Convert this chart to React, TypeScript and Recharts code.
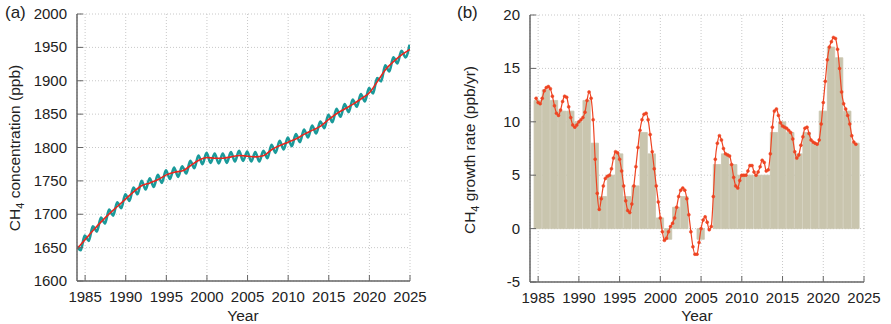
import React from "react";
import { ComposedChart, Line, Bar, XAxis, YAxis, CartesianGrid } from "recharts";

// (a) CH4 concentration, ppb
const trendYears = [
  1984, 1985, 1986, 1987, 1988, 1989, 1990, 1991, 1992, 1993, 1994, 1995, 1996, 1997,
  1998, 1999, 2000, 2001, 2002, 2003, 2004, 2005, 2006, 2007, 2008, 2009, 2010, 2011,
  2012, 2013, 2014, 2015, 2016, 2017, 2018, 2019, 2020, 2021, 2022, 2023, 2024, 2025,
];
const trendPpb = [
  1648, 1662, 1676, 1689, 1701, 1712, 1723, 1734, 1743, 1747, 1752, 1759, 1763, 1765,
  1773, 1781, 1785, 1784, 1784, 1786, 1788, 1787, 1786, 1788, 1797, 1803, 1808, 1813,
  1820, 1826, 1832, 1842, 1851, 1858, 1865, 1873, 1882, 1899, 1917, 1929, 1939, 1947,
];
// monthly record: first value, then seasonal low (mid-year) and high (year end) of each year
const monthlyFirstPpb = 1652;
const seasonYears = trendYears.slice(0, 41);
const seasonLowPpb = [
  1646, 1660, 1674, 1686, 1698, 1709, 1720, 1730, 1737, 1741, 1747, 1753, 1756, 1761,
  1769, 1775, 1777, 1776, 1777, 1779, 1780, 1779, 1779, 1784, 1792, 1797, 1802, 1808,
  1815, 1821, 1829, 1838, 1846, 1853, 1861, 1869, 1881, 1899, 1914, 1926, 1935,
];
const seasonHighPpb = [
  1668, 1682, 1695, 1707, 1718, 1730, 1740, 1750, 1754, 1759, 1766, 1770, 1772, 1780,
  1788, 1792, 1791, 1791, 1793, 1795, 1794, 1793, 1795, 1804, 1810, 1815, 1820, 1827,
  1833, 1839, 1849, 1858, 1865, 1872, 1880, 1889, 1904, 1923, 1935, 1945, 1954,
];

// (b) growth rate, ppb/yr
const barYears = trendYears.slice(1, 41);
const barRate = [
  12, 13, 12, 11, 11, 10, 12, 8, 3, 5, 7, 3, 4, 9, 7, 1, -1, 2, 3, 0,
  -1, 0, 6, 7, 6, 5, 5, 5, 5, 9, 10, 9, 7, 9, 8, 11, 17, 16, 11, 8,
];
// quarterly, from 1984.75 to 2024.0
const rateStart = 1984.75;
const rateValues = [
  12.2,
  11.8, 11.7, 12.2, 12.9, // 1985
  13.2, 13.3, 13.1, 12.4,
  11.5, 10.8, 10.6, 11.1,
  11.9, 12.4, 12.3, 11.4,
  10.4, 9.7, 9.5, 9.7,
  10.0, 10.2, 10.4, 10.9, // 1990
  12.0, 12.8, 12.2, 10.2,
  6.5, 3.3, 1.8, 2.8,
  4.0, 4.7, 4.9, 5.0,
  5.6, 6.6, 7.2, 7.1,
  6.5, 5.4, 4.0, 2.6, // 1995
  1.7, 1.5, 2.3, 4.0,
  5.8, 7.6, 9.2, 10.2,
  10.7, 10.8, 10.2, 8.8,
  7.2, 5.6, 4.0, 2.5,
  1.0, -0.3, -1.1, -0.9, // 2000
  -0.3, 0.2, 0.5, 1.0,
  2.0, 3.0, 3.6, 3.8,
  3.6, 2.8, 1.3, -0.3,
  -1.7, -2.4, -2.4, -1.3,
  0.0, 0.8, 1.1, 0.6, // 2005
  -0.1, 0.2, 3.0, 6.5,
  8.0, 8.7, 8.3, 7.5,
  7.0, 6.9, 6.8, 6.0,
  4.8, 4.0, 3.8, 4.5,
  5.0, 5.0, 5.0, 5.4, // 2010
  5.9, 5.9, 5.3, 5.0,
  5.3, 5.8, 6.4, 6.2,
  5.4, 5.5, 7.0, 9.5,
  11.0, 11.2, 10.6, 9.9,
  9.6, 9.5, 9.4, 9.2, // 2015
  9.0, 8.4, 7.2, 6.6,
  6.9, 7.8, 8.6, 9.4,
  9.5, 8.9, 8.3, 8.1,
  8.0, 7.9, 8.3, 9.8,
  11.8, 13.8, 15.8, 17.0, // 2020
  17.5, 17.9, 17.8, 16.8,
  15.0, 12.8, 11.7, 11.2,
  10.6, 9.8, 8.7, 8.1,
  7.9,
];

const yearTicks = [1985, 1990, 1995, 2000, 2005, 2010, 2015, 2020, 2025];
const minorYearTicks = trendYears;
const concTicks = [1600, 1650, 1700, 1750, 1800, 1850, 1900, 1950, 2000];
const rateTicks = [-5, 0, 5, 10, 15, 20];

const trendData = trendYears.map((x, i) => ({ x, v: trendPpb[i] }));
const monthlyData = [{ x: 1984.0, v: monthlyFirstPpb }];
seasonYears.forEach((y, i) => {
  monthlyData.push({ x: y + 0.45, v: seasonLowPpb[i] });
  monthlyData.push({ x: y + 0.95, v: seasonHighPpb[i] });
});
const barData = barYears.map((x, i) => ({ x, v: barRate[i] }));
const rateData = rateValues.map((v, i) => ({ x: rateStart + i * 0.25, v }));

const FONT = '"Liberation Sans", Arial, Helvetica, sans-serif';
const FRAME = "#666";
const TEXT = "#222";
const BAR = "#c9c5ae";

const BottomTick = (props: any) => {
  const { x, y, payload } = props;
  return (
    <g>
      <line x1={x} x2={x} y1={y} y2={y - 6} stroke={FRAME} />
      <text x={x} y={y + 21} textAnchor="middle" fontSize={15} fontFamily={FONT} fill={TEXT}>
        {payload.value}
      </text>
    </g>
  );
};

const LeftTick = (props: any) => {
  const { x, y, payload } = props;
  return (
    <g>
      <line x1={x} x2={x + 6} y1={y} y2={y} stroke={FRAME} />
      <text x={x - 10} y={y + 5} textAnchor="end" fontSize={15} fontFamily={FONT} fill={TEXT}>
        {payload.value}
      </text>
    </g>
  );
};

const frameLine = { stroke: FRAME, strokeWidth: 1.5 };

// inward ticks on the other three sides, plus the top/right frame
const extraAxes = (xDomain: number[], yDomain: number[], yTicks: number[]) => [
  <XAxis key="mb" xAxisId="mb" type="number" dataKey="x" domain={xDomain} allowDataOverflow
    orientation="bottom" mirror height={0} ticks={minorYearTicks} interval={0}
    tick={false} tickSize={3} tickLine={{ stroke: FRAME }} axisLine={false} />,
  <XAxis key="tm" xAxisId="tm" type="number" dataKey="x" domain={xDomain} allowDataOverflow
    orientation="top" mirror height={0} ticks={minorYearTicks} interval={0}
    tick={false} tickSize={3} tickLine={{ stroke: FRAME }} axisLine={frameLine} />,
  <XAxis key="tM" xAxisId="tM" type="number" dataKey="x" domain={xDomain} allowDataOverflow
    orientation="top" mirror height={0} ticks={yearTicks} interval={0}
    tick={false} tickSize={6} tickLine={{ stroke: FRAME }} axisLine={false} />,
  <YAxis key="r" yAxisId="r" type="number" domain={yDomain} allowDataOverflow
    orientation="right" mirror width={0} ticks={yTicks} interval={0}
    tick={false} tickSize={6} tickLine={{ stroke: FRAME }} axisLine={frameLine} />,
];

const textStyle: React.CSSProperties = {
  position: "absolute",
  fontFamily: FONT,
  color: TEXT,
  whiteSpace: "nowrap",
  lineHeight: 1.1,
};

const YLabel = ({ cx, cy, children }: { cx: number; cy: number; children: React.ReactNode }) => (
  <div
    style={{
      ...textStyle,
      left: cx,
      top: cy,
      fontSize: 15.5,
      transform: "translate(-50%, -50%) rotate(-90deg)",
    }}
  >
    {children}
  </div>
);

const Sub = ({ children }: { children: React.ReactNode }) => (
  <span style={{ fontSize: 11, position: "relative", top: 4 }}>{children}</span>
);

export default function App() {
  return (
    <div style={{ position: "absolute", left: 0, top: 0, width: 891, height: 324, background: "#fff", overflow: "hidden" }}>
      <div style={{ position: "absolute", left: 0, top: 0 }}>
        <ComposedChart width={445} height={324} margin={{ top: 14, right: 35, bottom: 13, left: 33 }}>
          <CartesianGrid stroke="#c8c8c8" strokeDasharray="1 2" />
          <XAxis type="number" dataKey="x" domain={[1984, 2025]} allowDataOverflow ticks={yearTicks}
            interval={0} height={30} tickSize={0} tickMargin={0} tickLine={false}
            axisLine={frameLine} tick={<BottomTick />} />
          <YAxis type="number" domain={[1600, 2000]} allowDataOverflow ticks={concTicks}
            interval={0} width={44} tickSize={0} tickMargin={0} tickLine={false}
            axisLine={frameLine} tick={<LeftTick />} />
          {extraAxes([1984, 2025], [1600, 2000], concTicks)}
          <Line data={monthlyData} dataKey="v" type="monotone" stroke="#1a9a9a" strokeWidth={2.6}
            dot={false} isAnimationActive={false} />
          <Line data={trendData} dataKey="v" type="monotone" stroke="#e8261e" strokeWidth={1.6}
            dot={false} isAnimationActive={false} />
        </ComposedChart>
      </div>
      <div style={{ position: "absolute", left: 445, top: 0 }}>
        <ComposedChart width={446} height={324} data={barData} barCategoryGap={0} barGap={0}
          margin={{ top: 15, right: 27, bottom: 12, left: 35 }}>
          <CartesianGrid stroke="#c8c8c8" strokeDasharray="1 2" />
          <XAxis type="number" dataKey="x" domain={[1984, 2025]} allowDataOverflow ticks={yearTicks}
            interval={0} height={30} tickSize={0} tickMargin={0} tickLine={false}
            axisLine={frameLine} tick={<BottomTick />} />
          <YAxis type="number" domain={[-5, 20]} allowDataOverflow ticks={rateTicks}
            interval={0} width={50} tickSize={0} tickMargin={0} tickLine={false}
            axisLine={frameLine} tick={<LeftTick />} />
          {extraAxes([1984, 2025], [-5, 20], rateTicks)}
          <Bar dataKey="v" fill={BAR} stroke={BAR} strokeWidth={0.8} barSize={8.4}
            isAnimationActive={false} />
          <Line data={rateData} xAxisId="mb" dataKey="v" type="monotone" stroke="#ee4422" strokeWidth={1.2}
            dot={{ r: 1.5, fill: "#ee4422", stroke: "#ee4422", strokeWidth: 0.5 }}
            isAnimationActive={false} />
        </ComposedChart>
      </div>

      <div style={{ ...textStyle, left: 5, top: 4, fontSize: 17 }}>(a)</div>
      <div style={{ ...textStyle, left: 457, top: 4, fontSize: 17 }}>(b)</div>
      <YLabel cx={15} cy={148}>
        CH<Sub>4</Sub> concentration (ppb)
      </YLabel>
      <YLabel cx={470} cy={150}>
        CH<Sub>4</Sub> growth rate (ppb/yr)
      </YLabel>
      <div style={{ ...textStyle, left: 243, top: 307, fontSize: 15.5, transform: "translateX(-50%)" }}>Year</div>
      <div style={{ ...textStyle, left: 697, top: 307, fontSize: 15.5, transform: "translateX(-50%)" }}>Year</div>
    </div>
  );
}
